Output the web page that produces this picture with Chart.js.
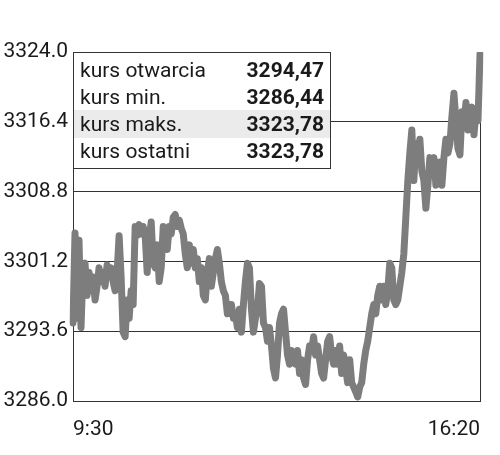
<!DOCTYPE html>
<html>
<head>
<meta charset="utf-8">
<script src="https://cdn.jsdelivr.net/npm/chart.js@4.4.1/dist/chart.umd.min.js"></script>
<style>
  html, body { margin: 0; padding: 0; background: #fff; }
  #wrap { width: 500px; height: 455px; }
</style>
</head>
<body>
<div id="wrap"><canvas id="c"></canvas></div>
<script>
  // notowania co ~2 minuty, 9:30 - 16:20
  const kurs = [
    3294.5, 3304.3, 3295.0, 3303.5, 3294.0, 3300.5, 3301.0, 3297.5, 3300.0, 3298.0,
    3299.5, 3297.0, 3298.5, 3300.5, 3299.0, 3300.0, 3298.5, 3300.8, 3299.5, 3300.5,
    3299.0, 3298.0, 3300.0, 3304.0, 3299.5, 3293.5, 3293.0, 3297.0, 3295.0, 3298.0,
    3296.5, 3305.0, 3304.0, 3305.2, 3304.2, 3305.0, 3304.0, 3300.0, 3303.5, 3305.5,
    3301.0, 3300.5, 3303.0, 3299.0, 3300.5, 3305.0, 3304.5, 3302.5, 3305.0, 3304.2,
    3306.0, 3306.3, 3305.0, 3305.7, 3304.8, 3304.2, 3302.0, 3300.5, 3303.0, 3301.0,
    3302.5, 3300.5, 3301.5, 3299.0, 3300.5, 3297.5, 3297.0, 3300.0, 3301.5, 3298.5,
    3300.0, 3301.5, 3302.5, 3301.0, 3299.0, 3298.0, 3297.5, 3295.5, 3296.5, 3296.5,
    3295.0, 3295.5, 3294.0, 3296.0, 3293.5, 3296.5, 3299.0, 3301.0, 3300.5, 3296.0,
    3293.5, 3295.0, 3296.0, 3298.8, 3298.5, 3294.5, 3294.0, 3292.5, 3294.0, 3292.0,
    3289.5, 3288.5, 3291.0, 3294.5, 3295.5, 3296.0, 3293.5, 3291.0, 3290.0, 3291.5,
    3291.0, 3290.0, 3291.5, 3289.0, 3290.5, 3288.5, 3287.8, 3290.5, 3292.0, 3291.5,
    3293.0, 3291.0, 3292.0, 3290.5, 3289.0, 3288.5, 3290.5, 3292.5, 3293.0, 3291.0,
    3290.0, 3291.5, 3290.0, 3292.0, 3289.0, 3291.0, 3289.5, 3288.0, 3290.5, 3288.0,
    3287.5, 3287.0, 3286.44, 3287.5, 3288.0, 3290.0, 3291.5, 3292.5, 3294.0, 3295.5,
    3296.5, 3295.5, 3297.5, 3298.5, 3297.0, 3298.5, 3296.5, 3298.0, 3301.0, 3300.5,
    3297.0, 3296.5, 3297.0, 3298.5, 3300.0, 3302.0, 3306.0, 3310.0, 3313.0, 3315.5,
    3310.0, 3314.0, 3312.0, 3314.5, 3311.0, 3310.0, 3307.0, 3309.5, 3312.5, 3311.5,
    3312.5, 3309.5, 3311.5, 3312.0, 3309.5, 3312.5, 3314.5, 3313.0, 3314.0, 3317.0,
    3319.5, 3316.5, 3313.5, 3312.8, 3317.5, 3316.0, 3318.5, 3315.5, 3317.5, 3318.0,
    3315.0, 3317.5, 3316.5, 3323.78
  ];
  const startLabel = '9:30';
  const endLabel = '16:20';
  const yTicks = [3286.0, 3293.6, 3301.2, 3308.8, 3316.4, 3324.0];

  const tabNazwy = ['kurs otwarcia', 'kurs min.', 'kurs maks.', 'kurs ostatni'];
  const tabWartosci = ['3294,47', '3286,44', '3323,78', '3323,78'];

  const labels = kurs.map((v, i) => i === 0 ? startLabel : (i === kurs.length - 1 ? endLabel : ''));

  const tabelka = {
    id: 'tabelka',
    afterDraw(chart) {
      const ctx = chart.ctx;
      const x0 = chart.chartArea.left, y0 = chart.chartArea.top;
      const w = 257, rowH = 26.8, h = 116;
      ctx.save();
      ctx.fillStyle = '#fff';
      ctx.fillRect(x0, y0, w, h);
      ctx.fillStyle = '#ebebeb';
      ctx.fillRect(x0, y0 + 58, w, 28);
      ctx.strokeStyle = '#333';
      ctx.lineWidth = 1;
      ctx.strokeRect(x0 + 0.5, y0 + 0.5, w, h);
      ctx.textBaseline = 'middle';
      ctx.fillStyle = '#1a1a1a';
      tabNazwy.forEach((n, i) => {
        const y = y0 + 20 + i * rowH;
        ctx.font = '21px Roboto';
        ctx.textAlign = 'left';
        ctx.fillText(n, x0 + 7, y);
        ctx.font = 'bold 21px Roboto';
        ctx.textAlign = 'right';
        ctx.fillText(tabWartosci[i], x0 + 251, y);
      });
      ctx.restore();
    }
  };

  new Chart(document.getElementById('c'), {
    type: 'line',
    data: {
      labels,
      datasets: [{
        data: kurs,
        borderColor: '#7d7d7d',
        borderWidth: 7,
        pointRadius: 0,
        tension: 0,
        borderJoinStyle: 'round',
        borderCapStyle: 'round'
      }]
    },
    options: {
      responsive: true,
      maintainAspectRatio: false,
      animation: false,
      layout: { padding: { top: 52, right: 20, left: 0, bottom: 0 } },
      plugins: { legend: { display: false }, tooltip: { enabled: false } },
      scales: {
        x: {
          afterFit: s => { s.height = 54; },
          border: { color: '#333', width: 1 },
          grid: {
            drawTicks: false,
            color: c => (c.index === kurs.length - 1 ? '#333' : 'transparent')
          },
          ticks: {
            autoSkip: false,
            maxRotation: 0,
            align: 'inner',
            padding: 16,
            color: '#1a1a1a',
            font: { family: 'Roboto', size: 21 }
          }
        },
        y: {
          min: 3286,
          max: 3324,
          afterFit: s => { s.width = 73; },
          afterBuildTicks: s => { s.ticks = yTicks.map(v => ({ value: v })); },
          border: { color: '#333', width: 1 },
          grid: {
            drawTicks: false,
            color: c => (c.tick && c.tick.value === 3324 ? 'transparent' : '#333')
          },
          ticks: {
            padding: 5,
            color: '#1a1a1a',
            font: { family: 'Roboto', size: 21 },
            callback: v => Number(v).toFixed(1)
          }
        }
      }
    },
    plugins: [tabelka]
  });
</script>
</body>
</html>
